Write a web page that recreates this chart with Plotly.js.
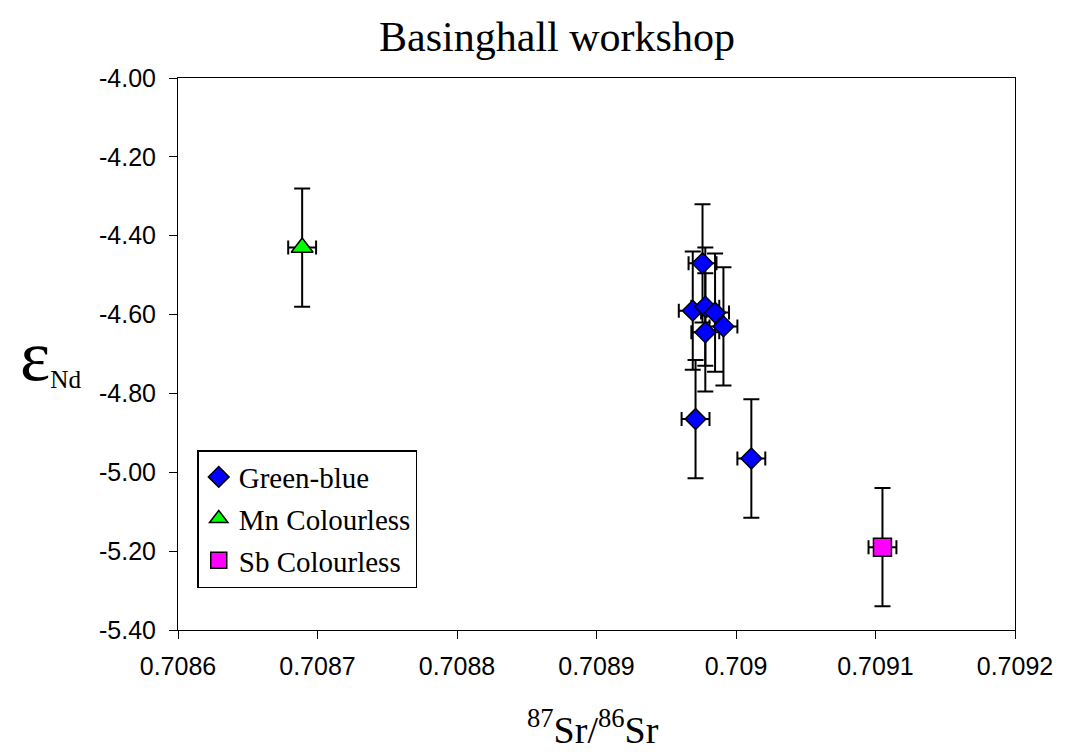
<!DOCTYPE html>
<html><head><meta charset="utf-8">
<script src="https://cdn.plot.ly/plotly-3.0.1.min.js"></script>
<style>html,body{margin:0;padding:0;background:#fff}#chart{width:1065px;height:754px}</style>
</head><body><div id="chart"></div>
<script>
// Data
const greenBlueSr = [0.708976, 0.708969, 0.708978, 0.708985, 0.708978, 0.708991, 0.708971, 0.709011];
const greenBlueNd = [-4.47, -4.59, -4.58, -4.595, -4.645, -4.63, -4.865, -4.965];
const mnSr = [0.708689];
const mnNd = [-4.43];
const sbSr = [0.709105];
const sbNd = [-5.19];
const srErr = 0.00001;
const ndErr = 0.15;
const xTickVals = [0.7086, 0.7087, 0.7088, 0.7089, 0.709, 0.7091, 0.7092];
const xTickText = ['0.7086', '0.7087', '0.7088', '0.7089', '0.709', '0.7091', '0.7092'];
const yTickVals = [-4.0, -4.2, -4.4, -4.6, -4.8, -5.0, -5.2, -5.4];
const yTickText = ['-4.00', '-4.20', '-4.40', '-4.60', '-4.80', '-5.00', '-5.20', '-5.40'];

function errs() {
  return {
    error_x: {type: 'constant', value: srErr, color: '#000', thickness: 2, width: 7},
    error_y: {type: 'constant', value: ndErr, color: '#000', thickness: 2, width: 8}
  };
}

const traces = [
  Object.assign({x: greenBlueSr, y: greenBlueNd, mode: 'markers', type: 'scatter', name: 'Green-blue', legendgroup: 'g1',
    marker: {symbol: 'diamond', size: 16, color: '#0000FF', line: {color: '#000', width: 1.5}}}, errs()),
  Object.assign({x: mnSr, y: mnNd, mode: 'markers', type: 'scatter', name: 'Mn Colourless', legendgroup: 'g2',
    marker: {symbol: 'triangle-up', size: 19, color: '#00FF00', line: {color: '#000', width: 1.5}}}, errs()),
  Object.assign({x: sbSr, y: sbNd, mode: 'markers', type: 'scatter', name: 'Sb Colourless', legendgroup: 'g3',
    marker: {symbol: 'square', size: 18, color: '#FF00FF', line: {color: '#000', width: 1.5}}}, errs())
];

const serif = 'Liberation Serif, Times New Roman, serif';
const sans = 'Liberation Sans, Arial, sans-serif';

const layout = {
  width: 1065, height: 754,
  margin: {l: 178, r: 50, t: 78, b: 124},
  paper_bgcolor: '#fff', plot_bgcolor: '#fff',
  showlegend: true,
  title: {text: 'Basinghall workshop', x: 0.523, xanchor: 'center', y: 0.952, yanchor: 'middle',
    font: {family: serif, size: 42, color: '#000'}},
  xaxis: {range: [0.7086, 0.7092], tickvals: xTickVals, ticktext: xTickText,
    showgrid: false, zeroline: false, showline: true, linecolor: '#000', linewidth: 1, mirror: true,
    ticks: 'outside', ticklen: 8, tickcolor: '#000', ticklabelstandoff: 6,
    tickfont: {family: sans, size: 25, color: '#000'}},
  yaxis: {range: [-5.4, -4.0], tickvals: yTickVals, ticktext: yTickText,
    showgrid: false, zeroline: false, showline: true, linecolor: '#000', linewidth: 1, mirror: true,
    ticks: 'outside', ticklen: 8, tickcolor: '#000', ticklabelstandoff: 8,
    tickfont: {family: sans, size: 25, color: '#000'}},
  legend: {x: 0.023, y: 0.326, xanchor: 'left', yanchor: 'top', bgcolor: '#fff',
    bordercolor: '#000', borderwidth: 1.5,
    font: {family: serif, size: 29, color: '#000'},
    tracegroupgap: 1},
  annotations: [
    {text: '<span style="font-size:72px">ε</span><sub>Nd</sub>', xref: 'paper', yref: 'paper',
      x: (18 - 178) / 837, y: (630 - 356) / 552, xanchor: 'left', yanchor: 'middle', showarrow: false,
      font: {family: serif, size: 36, color: '#000'}},
    {text: '<sup>87</sup>Sr/<sup>86</sup>Sr', xref: 'paper', yref: 'paper',
      x: (593 - 178) / 837, y: (630 - 727) / 552, xanchor: 'center', yanchor: 'middle', showarrow: false,
      font: {family: serif, size: 38, color: '#000'}}
  ]
};

Plotly.newPlot('chart', traces, layout, {displayModeBar: false, staticPlot: true});
</script>
</body></html>
